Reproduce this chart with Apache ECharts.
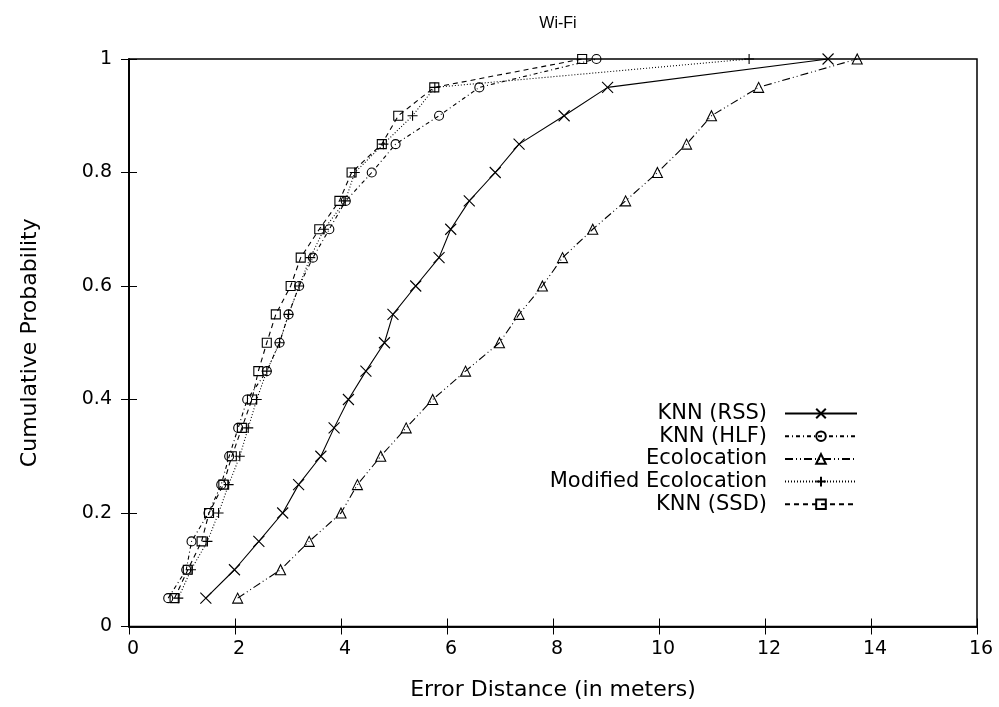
<!DOCTYPE html>
<html>
<head>
<meta charset="utf-8">
<script src="https://cdn.jsdelivr.net/npm/echarts@6/dist/echarts.min.js"></script>
<style>
html,body{margin:0;padding:0;background:#fff;}
#chart{width:999px;height:707px;}
</style>
</head>
<body>
<div id="chart"></div>
<script>
// Cumulative probability levels (y values)
const probs = [0.05,0.10,0.15,0.20,0.25,0.30,0.35,0.40,0.45,0.50,0.55,0.60,0.65,0.70,0.75,0.80,0.85,0.90,0.95,1.00];
// Error distances (x values) for each method
const knnRSS = [1.45,1.99,2.45,2.90,3.20,3.62,3.87,4.14,4.47,4.82,4.98,5.41,5.85,6.07,6.42,6.91,7.36,8.21,9.03,13.19];
const knnHLF = [0.74,1.08,1.18,1.50,1.74,1.89,2.06,2.23,2.60,2.84,3.01,3.21,3.47,3.78,4.09,4.58,5.03,5.85,6.61,8.82];
const ecolocation = [2.05,2.86,3.40,4.00,4.31,4.75,5.23,5.73,6.35,6.99,7.36,7.80,8.18,8.75,9.37,9.97,10.52,10.99,11.88,13.74];
const modEcolocation = [0.93,1.17,1.48,1.69,1.88,2.09,2.25,2.41,2.60,2.84,3.01,3.21,3.42,3.68,4.08,4.26,4.80,5.35,5.77,11.70];
const knnSSD = [0.86,1.11,1.37,1.51,1.78,1.94,2.13,2.32,2.44,2.60,2.77,3.05,3.24,3.59,3.97,4.20,4.77,5.08,5.76,8.55];
const seriesNames = ['KNN (RSS)','KNN (HLF)','Ecolocation','Modified Ecolocation','KNN (SSD)'];

const FONT = '"DejaVu Sans", Verdana, sans-serif';
const TFONT = '"Liberation Sans", Arial, Helvetica, sans-serif';
function pairs(xs){ return xs.map((x,i)=>[x, probs[i]]); }

const styles = [
  {data: knnRSS, symbol:'path://M0,0L10,10M0,10L10,0', size:11, dash:'solid'},
  {data: knnHLF, symbol:'circle', size:9, dash:[4,3,1,3]},
  {data: ecolocation, symbol:'triangle', size:10, dash:[8,3,1,3,1,3]},
  {data: modEcolocation, symbol:'path://M5,0L5,10M0,5L10,5', size:10, dash:[1,2]},
  {data: knnSSD, symbol:'rect', size:9, dash:[5,4]}
];

const series = styles.map((s,i)=>({
  name: seriesNames[i],
  type:'line',
  data: pairs(s.data),
  symbol: s.symbol,
  symbolSize: s.size,
  showAllSymbol: true,
  animation:false,
  color:'#000',
  lineStyle:{color:'#000', width:1.1, type:s.dash},
  itemStyle:{color:'rgba(0,0,0,0)', borderColor:'#000', borderWidth:1.1}
}));

const chart = echarts.init(document.getElementById('chart'), null, {renderer:'canvas'});
const axisTick = {show:true, inside:true, length:8, lineStyle:{color:'#000', width:1}};
chart.setOption({
  backgroundColor:'#fff',
  animation:false,
  title:{text:'Wi-Fi', left:553, textAlign:'center', top:11,
    textStyle:{fontFamily:TFONT, fontSize:16, fontWeight:'normal', color:'#000'}},
  grid:{left:129, right:22, top:59, bottom:80.5, show:true, borderColor:'#000', borderWidth:1.5, backgroundColor:'#fff'},
  legend:{
    orient:'vertical', align:'right', right:136, top:398,
    itemWidth:72, itemHeight:12, itemGap:1.7,
    textStyle:{fontFamily:FONT, fontSize:21, color:'#000', lineHeight:21, padding:[0,13,0,0]},
    data: seriesNames
  },
  xAxis:[
    {type:'value', min:0, max:16, interval:2, position:'bottom',
     name:'Error Distance (in meters)', nameLocation:'middle', nameGap:53,
     nameTextStyle:{fontFamily:FONT, fontSize:22, color:'#000'},
     axisLine:{show:true, lineStyle:{color:'#000', width:1.5}},
     axisTick: axisTick,
     axisLabel:{fontFamily:FONT, fontSize:19, color:'#000', margin:13, padding:[0,0,0,8]},
     splitLine:{show:false}},
    {type:'value', min:0, max:16, interval:2, position:'top',
     axisLine:{show:true, lineStyle:{color:'#000', width:1.5}},
     axisTick: axisTick, axisLabel:{show:false}, splitLine:{show:false}}
  ],
  yAxis:[
    {type:'value', min:0, max:1, interval:0.2, position:'left',
     name:'Cumulative Probability', nameLocation:'middle', nameGap:88,
     nameTextStyle:{fontFamily:FONT, fontSize:22, color:'#000'},
     axisLine:{show:true, lineStyle:{color:'#000', width:1.5}},
     axisTick: axisTick,
     axisLabel:{fontFamily:FONT, fontSize:19, color:'#000', margin:17},
     splitLine:{show:false}},
    {type:'value', min:0, max:1, interval:0.2, position:'right',
     axisLine:{show:true, lineStyle:{color:'#000', width:1.5}},
     axisTick: axisTick, axisLabel:{show:false}, splitLine:{show:false}}
  ],
  series: series
});
</script>
</body>
</html>
